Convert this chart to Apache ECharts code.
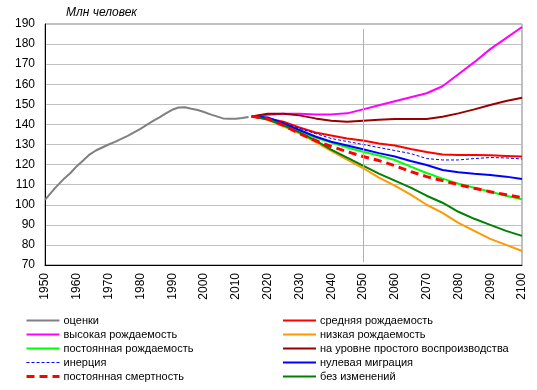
<!DOCTYPE html>
<html><head><meta charset="utf-8">
<script src="https://cdn.jsdelivr.net/npm/echarts@6/dist/echarts.min.js"></script>
<style>html,body{margin:0;padding:0;background:#fff}#c{width:537px;height:390px}</style>
</head><body><div id="c"></div>
<script>
// Data
const estYears = [1950,1953,1956,1958,1960,1962,1964,1966,1968,1970,1972,1974,1976,1978,1980,1982,1984,1986,1988,1990,1992,1994,1996,1998,2000,2002,2004,2006,2008,2010,2012,2014];
const estimates = [102.4,108,113,115.8,119.2,122,125,127,128.5,130,131.3,132.8,134.3,136,137.8,139.8,141.8,143.5,145.5,147.3,148.4,148.5,147.8,147.2,146.2,145,144,143.0,142.8,142.8,143.2,143.7];
const projYears = [2015,2020,2025,2030,2035,2040,2045,2050,2055,2060,2065,2070,2075,2080,2085,2090,2095,2100];
const medium      = [144,143,141.3,138.5,136,134.5,133,132,130.5,129.5,127.8,126.3,125,124.8,124.8,124.6,124.3,124];
const high        = [144,144.8,145.3,145.3,145,145,145.5,147.5,149.5,151.5,153.5,155.5,159,165,171,177.5,183,188.5];
const low         = [144,142.3,139,135.5,131.3,126.8,122.5,118.3,113.5,109.5,105,100,96,91,87,83,80,77];
const constFert   = [144,143,140,136.5,133.5,131,128.5,126.4,124.5,122.3,119,115.8,113,110.5,108.5,106.5,104.5,102.7];
const replacement = [144,145.3,145.3,144.5,143,141.8,141.3,141.8,142.3,142.7,142.7,142.7,143.8,145.5,147.5,149.7,151.7,153.3];
const inertia     = [144,143.5,141,138,135.5,133,131.5,130,128.5,127,125.5,123,122.3,122.3,123,123.5,123.3,122.8];
const zeroMig     = [144,143.5,140.5,137.2,134,131.4,129.5,127.6,125.7,124,121.8,119.8,117.3,116.2,115.4,114.8,114,112.8];
const constMort   = [144,142.8,139.5,135.5,132,129,126.5,124,122,119.5,116.5,114,112,110,108.2,106.5,105,103.5];
const noChange    = [144,142.5,139.5,136,132,127.5,123.5,119.5,115.5,112,108.5,104.5,101,96.5,93,90,87,84.5];
const names = ['оценки','средняя рождаемость','высокая рождаемость','низкая рождаемость','постоянная рождаемость','на уровне простого воспроизводства','инерция','нулевая миграция','постоянная смертность','без изменений'];

const pair = (xs, ys) => xs.map((x,i)=>[x, ys[i]]);
function line(name, xs, ys, color, width, type, z) {
  return {name, type:'line', data: pair(xs, ys), symbol:'none', showSymbol:false, smooth:false,
    lineStyle:{color, width, type: type||'solid'}, itemStyle:{color}, z: z||2, animation:false};
}
const series = [
  line(names[0], estYears, estimates, '#808080', 2),
  line(names[1], projYears, medium, '#ff0000', 2),
  line(names[2], projYears, high, '#ff00ff', 2),
  line(names[3], projYears, low, '#ff9900', 2),
  line(names[5], projYears, replacement, '#990000', 2),
  line(names[4], projYears, constFert, '#00ff00', 2),
  line(names[6], projYears, inertia, '#0000ff', 1, [3,2]),
  line(names[7], projYears, zeroMig, '#0000ff', 2),
  line(names[9], projYears, noChange, '#008000', 2),
  line(names[8], projYears, constMort, '#ff0000', 3, [8,5]),
];
series[0].markLine = {silent:true, symbol:'none', label:{show:false},
  lineStyle:{color:'#b0b0b0', width:1, type:'solid'},
  data:[[{coord:[2050,187.5]},{coord:[2050,71.5]}]]};

const font = 'Arial, "Liberation Sans", sans-serif';
const legendCommon = {orient:'vertical', itemWidth:33, itemHeight:11, itemGap:3, height:80,
  itemStyle:{opacity:0},
  textStyle:{fontFamily:font, fontSize:11, color:'#000', padding:[0,0,0,-1]}, selectedMode:false, padding:0};
const leftItems = [names[0], names[2], names[4], {name:names[6], lineStyle:{width:1}}, {name:names[8], lineStyle:{width:3}}];
const rightItems = [names[1], names[3], names[5], names[7], names[9]];
const chart = echarts.init(document.getElementById('c'), null, {renderer:'canvas'});
chart.setOption({
  animation:false,
  backgroundColor:'#fff',
  grid:{left:45, right:15, top:24, bottom:125, show:true, borderColor:'#808080', borderWidth:1},
  xAxis:{type:'value', min:1950, max:2100, interval:10,
    axisLine:{show:true, lineStyle:{color:'#000', width:1}}, axisTick:{show:false},
    splitLine:{show:false},
    axisLabel:{rotate:90, margin:8, fontFamily:font, fontSize:12, color:'#000', formatter:v=>String(v)}},
  yAxis:{type:'value', min:70, max:190, interval:10,
    axisLine:{show:true, lineStyle:{color:'#000', width:1}}, axisTick:{show:false},
    splitLine:{show:true, lineStyle:{color:'#c0c0c0', width:1}},
    axisLabel:{margin:10, fontFamily:font, fontSize:12, color:'#000'}},
  legend:[
    Object.assign({left:25, top:315, data:leftItems}, legendCommon),
    Object.assign({left:282, top:315, data:rightItems}, legendCommon)
  ],
  graphic:[{type:'text', left:66, top:7, style:{text:'Млн человек', font:'italic 12px Arial, "Liberation Sans", sans-serif', fill:'#000'}}],
  series
});
</script></body></html>
